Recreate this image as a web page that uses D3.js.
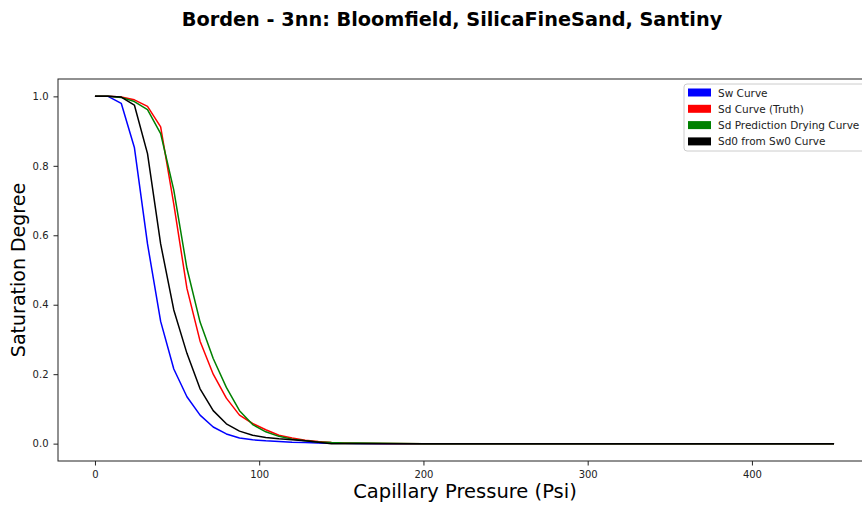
<!DOCTYPE html>
<html>
<head>
<meta charset="utf-8">
<script src="https://cdn.jsdelivr.net/npm/d3@7"></script>
<style>
  body { margin: 0; background: #fff; }
  svg { display: block; font-family: "DejaVu Sans", sans-serif; }
</style>
</head>
<body>
<svg width="862" height="505"></svg>
<script>
// pressure values (psi) shared by all curves
var pressure = [0, 8, 16, 24, 32, 40, 48, 56, 64, 72, 80, 88, 96, 104, 112, 120, 128, 136, 144, 152, 160, 176, 200, 450];

var sw_curve = [1.0, 1.0, 0.98, 0.853, 0.575, 0.352, 0.215, 0.135, 0.082, 0.048, 0.028, 0.016, 0.011, 0.008, 0.006, 0.004, 0.003, 0.002, 0.001, 0.001, 0.0005, 0.0, 0.0, 0.0];
var sd_truth = [1.0, 1.0, 0.998, 0.99, 0.971, 0.912, 0.69, 0.447, 0.295, 0.2, 0.131, 0.082, 0.058, 0.04, 0.024, 0.016, 0.01, 0.006, 0.003, 0.002, 0.001, 0.0005, 0.0, 0.0];
var sd_pred = [1.0, 1.0, 0.997, 0.985, 0.962, 0.893, 0.73, 0.505, 0.35, 0.245, 0.162, 0.095, 0.055, 0.034, 0.021, 0.013, 0.008, 0.005, 0.003, 0.002, 0.0015, 0.001, 0.0, 0.0];
var sd0_curve = [1.0, 1.0, 0.998, 0.975, 0.835, 0.575, 0.385, 0.26, 0.158, 0.095, 0.057, 0.036, 0.024, 0.018, 0.014, 0.011, 0.008, 0.004, 0.0, 0.0, 0.0, 0.0, 0.0, 0.0];

var series_names = ["Sw Curve", "Sd Curve (Truth)", "Sd Prediction Drying Curve", "Sd0 from Sw0 Curve"];
var series_colors = ["blue", "red", "green", "black"];
var series_values = [sw_curve, sd_truth, sd_pred, sd0_curve];

var x_ticks = [0, 100, 200, 300, 400];
var y_ticks = [0.0, 0.2, 0.4, 0.6, 0.8, 1.0];

var svg = d3.select("svg");
var margin = { left: 58, top: 79, right: 871, bottom: 461 };

var x = d3.scaleLinear().domain([-22.5, 472.5]).range([margin.left, margin.right]);
var y = d3.scaleLinear().domain([-0.05, 1.05]).range([margin.bottom, margin.top]);

svg.append("text")
  .attr("x", 452)
  .attr("y", 26)
  .attr("text-anchor", "middle")
  .style("font-size", "19.3px")
  .style("font-weight", "bold")
  .text("Borden - 3nn: Bloomfield, SilicaFineSand, Santiny");

var plot = svg.append("g");

var line = d3.line()
  .x(function (d) { return x(d[0]); })
  .y(function (d) { return y(d[1]); });

series_values.forEach(function (vals, i) {
  plot.append("path")
    .datum(pressure.map(function (p, j) { return [p, vals[j]]; }))
    .attr("d", line)
    .attr("fill", "none")
    .attr("stroke", series_colors[i])
    .attr("stroke-width", 1.5)
    .attr("stroke-linejoin", "round");
});

// axes
var xAxis = svg.append("g")
  .attr("transform", "translate(0," + margin.bottom + ")")
  .call(d3.axisBottom(x).tickValues(x_ticks).tickSize(4.5).tickPadding(5).tickFormat(d3.format("d")));
var yAxis = svg.append("g")
  .attr("transform", "translate(" + margin.left + ",0)")
  .call(d3.axisLeft(y).tickValues(y_ticks).tickSize(4.5).tickPadding(5).tickFormat(d3.format(".1f")));

[xAxis, yAxis].forEach(function (a) {
  a.select(".domain").remove();
  a.selectAll("text").style("font-size", "10px").style("font-family", "DejaVu Sans").attr("fill", "#222");
  a.selectAll("line").attr("stroke", "#222");
});

svg.append("rect")
  .attr("x", margin.left)
  .attr("y", margin.top)
  .attr("width", margin.right - margin.left)
  .attr("height", margin.bottom - margin.top)
  .attr("fill", "none")
  .attr("stroke", "#222")
  .attr("stroke-width", 1);

svg.append("text")
  .attr("x", 465)
  .attr("y", 498)
  .attr("text-anchor", "middle")
  .style("font-size", "19.5px")
  .text("Capillary Pressure (Psi)");

svg.append("text")
  .attr("transform", "translate(25,270) rotate(-90)")
  .attr("text-anchor", "middle")
  .style("font-size", "19px")
  .text("Saturation Degree");

// legend
var legend = svg.append("g").attr("transform", "translate(684,84)");
legend.append("rect")
  .attr("width", 200)
  .attr("height", 67)
  .attr("rx", 3)
  .attr("fill", "white")
  .attr("fill-opacity", 0.8)
  .attr("stroke", "#ccc");

var rows = legend.selectAll("g.row")
  .data(series_names)
  .enter()
  .append("g")
  .attr("class", "row")
  .attr("transform", function (d, i) { return "translate(0," + (8.5 + i * 16.3) + ")"; });

rows.append("rect")
  .attr("x", 4)
  .attr("y", -4)
  .attr("width", 23)
  .attr("height", 8)
  .attr("fill", function (d, i) { return series_colors[i]; });

rows.append("text")
  .attr("x", 34)
  .attr("y", 4)
  .style("font-size", "10.5px")
  .attr("fill", "#222")
  .text(function (d) { return d; });
</script>
</body>
</html>
